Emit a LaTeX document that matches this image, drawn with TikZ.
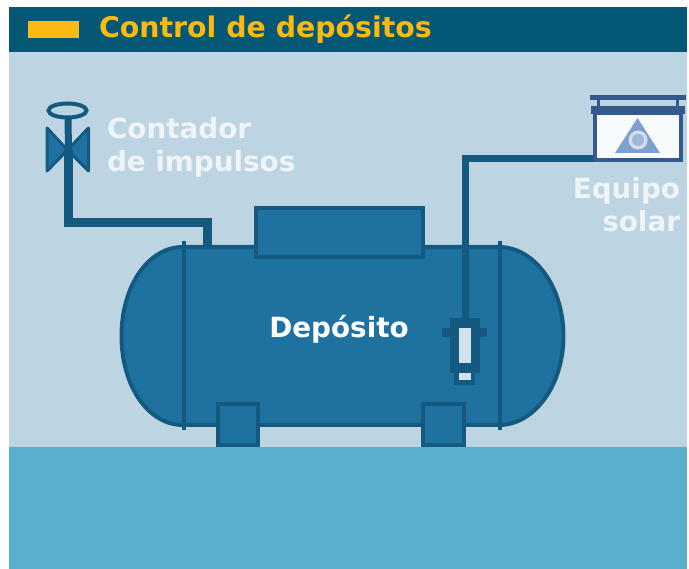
\documentclass[tikz,border=0pt]{standalone}
\usepackage{fontspec}
\setmainfont{DejaVu Sans}
\definecolor{hdr}{HTML}{045775}
\definecolor{sky}{HTML}{BDD5E2}
\definecolor{floorc}{HTML}{5AAFCF}
\definecolor{tankf}{HTML}{1F72A0}
\definecolor{tankl}{HTML}{14597F}
\definecolor{yel}{HTML}{FDB913}
\definecolor{sol}{HTML}{34598F}
\definecolor{tri}{HTML}{7F9FCC}
\definecolor{txtw}{HTML}{EEF4F7}
\tikzset{
  x=1pt,y=-1pt,
  partbox/.style={draw=tankl,fill=tankf,line width=4pt,line join=miter},
  pipe/.style={draw=tankl,line width=7pt,line join=miter},
  thickpipe/.style={draw=tankl,line width=9pt,line join=miter},
  seam/.style={draw=tankl,line width=4pt},
  lbl/.style={inner sep=0pt,outer sep=0pt,font=\bfseries\fontsize{27.8}{32}\selectfont,text=txtw,anchor=base west},
}
\begin{document}
\begin{tikzpicture}
\useasboundingbox (0,0) rectangle (689,569);
\fill[sky] (9,52) rectangle (687,447);
\fill[floorc] (9,447) rectangle (687,569);
\fill[hdr] (9,7) rectangle (687,52);
\fill[yel] (28,21.5) rectangle (78.5,38.5);
\node[lbl,text=yel,font=\bfseries\fontsize{28.4}{32}\selectfont] (title) at (99,38) {Control de depósitos};
% coordinates
\coordinate (valveTop) at (68,118);
\coordinate (valveMid) at (68.5,150);
\coordinate (bend1) at (68.5,222.5);
\coordinate (bend2) at (207.5,222.5);
\coordinate (tankIn) at (207.5,247);
\coordinate (bend3) at (465,159);
% pipes
\draw[thickpipe] (valveMid) -- (bend1) -- (bend2) -- (tankIn);
% tank
\path[partbox] (183,247) -- (499,247) .. controls (534.6,247) and (563.5,287) .. (563.5,336) .. controls (563.5,385) and (534.6,425) .. (499,425) -- (183,425) .. controls (147.4,425) and (121.5,385) .. (121.5,336) .. controls (121.5,287) and (147.4,247) .. (183,247) -- cycle;
\coordinate (tank) at (340,336);
\draw[seam] (183.5,241) -- (183.5,430);
\draw[seam] (499.5,241) -- (499.5,430);
\node[partbox,minimum width=167pt,minimum height=49pt,inner sep=0pt] (dome) at (339,233) {};
\node[partbox,minimum width=40pt,minimum height=41pt,inner sep=0pt] (footL) at (237.5,425) {};
\node[partbox,minimum width=41pt,minimum height=41pt,inner sep=0pt] (footR) at (443,425) {};
% sensor
\fill[tankl] (450,318) rectangle (480,373);
\fill[tankl] (442,328) rectangle (487,337);
\fill[tankl] (454,373) rectangle (475,385);
\fill[sky!70!white] (459,328) rectangle (471,363);
\fill[sky!70!white] (459,373) rectangle (471,380);
\coordinate (sensor) at (465,318);
% solar unit
\fill[sol] (590,95) rectangle (686,100);
\fill[sol] (597,100) rectangle (599.5,107);
\fill[sol] (676,100) rectangle (678.5,107);
\fill[sol] (591,106) rectangle (685,114);
\node[draw=sol,fill=white!90!sky,line width=4pt,minimum width=86pt,minimum height=47pt,inner sep=0pt] (solar) at (638,137) {};
\fill[tri] (637.5,118) -- (660,153) -- (615,153) -- cycle;
\fill[white!65!tri] (638,140) circle (9.5);
\fill[white!25!tri] (638,140) circle (6);
\draw[pipe] (solar.west |- bend3) -- (bend3) -- (sensor);
% valve
\draw[tankl,line width=4pt,fill=sky] (67.5,110.5) ellipse (19 and 7);
\draw[draw=tankl,fill=tankf,line width=3pt,line join=round] (47,128) -- (67.5,150) -- (47,171) -- cycle;
\draw[draw=tankl,fill=tankf,line width=3pt,line join=round] (88.5,128) -- (67.5,150) -- (88.5,171) -- cycle;
\draw[pipe] (valveTop) -- (valveMid);
\draw[thickpipe] (valveMid) -- (68.5,175);
% labels
\node[lbl] (cont) at (107,139) {Contador};
\node[lbl] (imp) at (107,172) {de impulsos};
\node[lbl,anchor=base east] (eq) at (680,199) {Equipo};
\node[lbl,anchor=base east] (so) at (680,232) {solar};
\node[lbl,text=white,anchor=base] (dep) at (339,338) {Depósito};
\end{tikzpicture}
\end{document}
